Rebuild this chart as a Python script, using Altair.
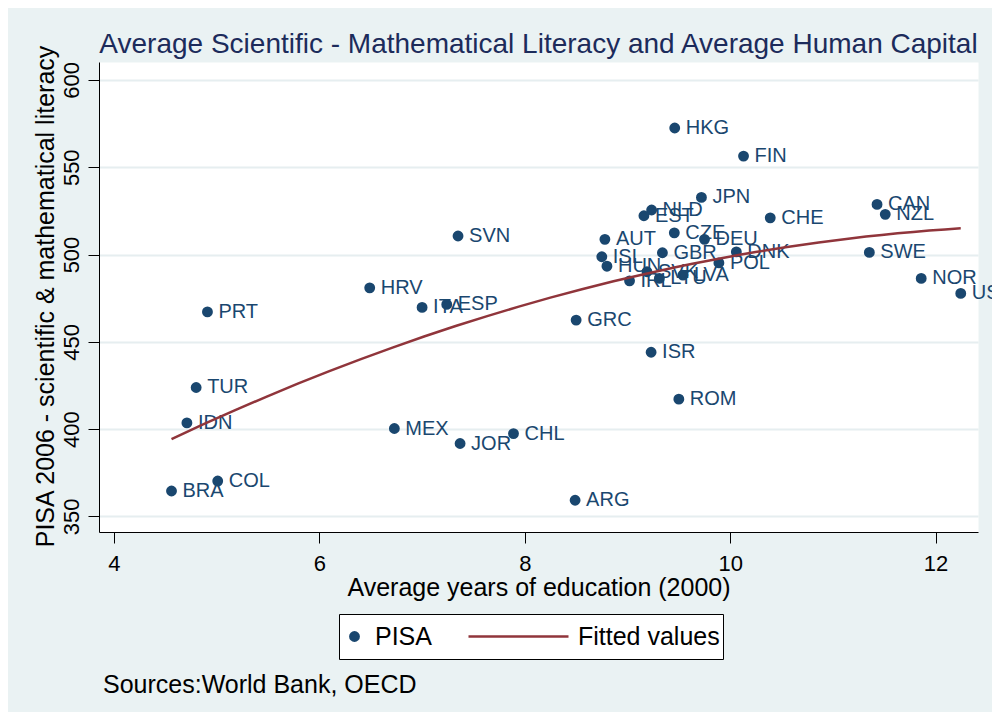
import altair as alt
import pandas as pd

FONT = "Liberation Sans"

countries = ["HKG", "FIN", "JPN", "NLD", "EST", "CHE", "CAN", "NZL", "CZE", "AUT",
             "DEU", "SVN", "GBR", "DNK", "SWE", "ISL", "POL", "HUN", "SVK", "LVA",
             "LTU", "IRL", "NOR", "USA", "HRV", "ESP", "ITA", "PRT", "GRC", "ISR",
             "TUR", "ROM", "IDN", "MEX", "CHL", "JOR", "COL", "BRA", "ARG"]
years = [9.46, 10.13, 9.72, 9.235, 9.16, 10.39, 11.43, 11.51, 9.456, 8.78,
         9.75, 7.35, 9.34, 10.06, 11.355, 8.75, 9.89, 8.80, 9.19, 9.54,
         9.31, 9.02, 11.86, 12.245, 6.49, 7.24, 7.00, 4.91, 8.50, 9.23,
         4.80, 9.50, 4.71, 6.73, 7.89, 7.37, 5.01, 4.56, 8.49]
pisa = [572.5, 556.4, 532.7, 525.5, 522.2, 521.0, 528.7, 523.0, 512.4, 508.7,
        508.7, 510.6, 501.0, 501.5, 501.2, 498.7, 495.2, 493.3, 490.1, 488.2,
        486.3, 484.9, 486.3, 477.7, 480.9, 471.4, 469.7, 467.1, 462.4, 444.0,
        423.8, 417.1, 403.5, 400.3, 397.4, 391.7, 370.2, 364.5, 359.2]

series_names = ["PISA", "Fitted values"]
x_ticks = [4, 6, 8, 10, 12]
y_ticks = [350, 400, 450, 500, 550, 600]
title_text = "Average Scientific - Mathematical Literacy and Average Human Capital"
x_title = "Average years of education (2000)"
y_title = "PISA 2006 - scientific & mathematical literacy"
source_text = ["Sources:World Bank, OECD"]

NAVY = "#1A476F"
MAROON = "#90353B"
BG = "#EAF2F3"

df = pd.DataFrame({"country": countries, "years": years, "pisa": pisa})
df["series"] = "PISA"

x_scale = alt.Scale(domain=[3.854, 12.413], nice=False, zero=False)
y_scale = alt.Scale(domain=[341.0, 610.3], nice=False, zero=False)

x_axis = alt.Axis(values=x_ticks, format="d", title=x_title, grid=False, tickSize=11,
                  labelFontSize=22, labelPadding=10, labelFlush=False,
                  titleFontSize=25, titleX=439.5, titleY=63, titleAlign="center",
                  titleBaseline="alphabetic")
y_axis = alt.Axis(values=y_ticks, format="d", title=y_title, grid=True, gridColor="#E6EEF0",
                  gridWidth=2, tickSize=11, labelFontSize=22, labelAngle=270,
                  labelAlign="center", labelBaseline="alphabetic", labelPadding=10,
                  labelFlush=False, titleFontSize=25, titleAngle=270, titleX=-46,
                  titleY=234, titleAlign="center", titleBaseline="alphabetic")

legend = alt.Legend(orient="none", legendX=240, legendY=552, direction="horizontal",
                    title=None, fillColor="white", strokeColor="black", padding=3,
                    labelFontSize=25, labelFont=FONT, labelColor="black",
                    labelOffset=8, columnPadding=35, clipHeight=39,
                    symbolStrokeWidth=2.5)

base = alt.Chart(df)

points = base.mark_point(filled=True, opacity=1, strokeWidth=2.5).encode(
    x=alt.X("years:Q", scale=x_scale, axis=x_axis),
    y=alt.Y("pisa:Q", scale=y_scale, axis=y_axis),
    fill=alt.Fill("series:N", scale=alt.Scale(domain=series_names, range=[NAVY, MAROON]), legend=legend),
    stroke=alt.Stroke("series:N", scale=alt.Scale(domain=series_names, range=[NAVY, MAROON]), legend=legend),
    shape=alt.Shape("series:N", scale=alt.Scale(domain=series_names, range=["circle", "stroke"]), legend=legend),
    size=alt.Size("series:N", scale=alt.Scale(type="point", domain=series_names, range=[70, 10000], padding=0), legend=legend),
)

labels = base.mark_text(align="left", baseline="middle", dx=11, fontSize=20,
                        font=FONT, color=NAVY).encode(
    x="years:Q", y="pisa:Q", text="country:N")

fit = base.transform_regression("years", "pisa", method="poly", order=2).transform_calculate(
    series="'Fitted values'").mark_line(strokeWidth=2.5).encode(
    x="years:Q", y="pisa:Q", stroke=alt.Stroke("series:N", legend=None))

note = alt.Chart(pd.DataFrame({"note": source_text})).mark_text(
    align="left", baseline="alphabetic", fontSize=25, font=FONT, color="black").encode(
    x=alt.value(4), y=alt.value(631), text="note:N")

chart = alt.layer(points, labels, fit, note).properties(
    width=879, height=470,
    title=alt.TitleParams(text=title_text, fontSize=28, font=FONT, fontWeight="normal",
                          color="#1C2B5B", anchor="middle", frame="group",
                          baseline="alphabetic", offset=8, dy=44),
    padding={"left": 91, "top": 54, "right": 14, "bottom": 180},
    autosize=alt.AutoSizeParams(type="none"),
    background=BG,
).configure_view(fill="white", stroke="transparent").configure_axis(
    domainColor="black", tickColor="black", labelColor="black", titleColor="black",
    labelFont=FONT, titleFont=FONT, titleFontWeight="normal", domainWidth=1, tickWidth=1)

chart.save("out.html", embed_options={"renderer": "svg", "actions": False})
